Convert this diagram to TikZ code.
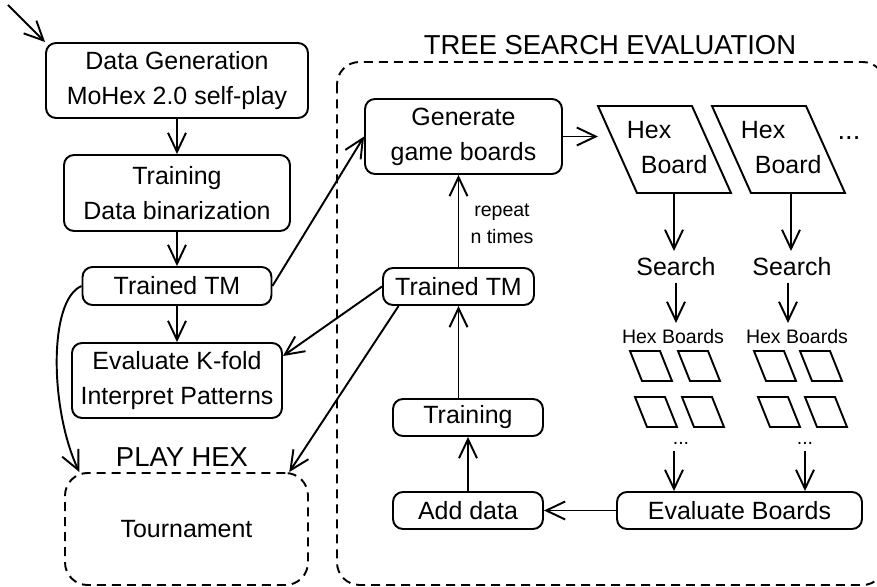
\documentclass[tikz,border=0pt]{standalone}
\usepackage{fontspec}
\setmainfont{Liberation Sans}
\usetikzlibrary{arrows.meta}
\begin{document}
\begin{tikzpicture}[x=0.02cm,y=-0.02cm,color=black,line width=1.1pt,
	every node/.style={font=\fontsize{14.2}{19.9}\selectfont},
	box/.style={draw,rounded corners=0.2cm,align=center,inner sep=0pt},
	dashbox/.style={draw,rounded corners=0.45cm,dash pattern=on 0.18cm off 0.12cm},
	arr/.style={-{Straight Barb[length=0.38cm,width=0.36cm]}},
	small/.style={font=\fontsize{11.1}{15.4}\selectfont},
	big/.style={font=\fontsize{15.6}{19}\selectfont}]
\useasboundingbox (0,0) rectangle (877,587);
\clip (0,0) rectangle (877,587);
% left column
\coordinate (start) at (8,5);
\node[box,minimum width=5.24cm,minimum height=1.5cm] (datagen) at (177,80.5) {Data Generation\\MoHex 2.0 self-play};
\node[box,minimum width=4.52cm,minimum height=1.52cm] (train) at (177,193) {Training\\Data binarization};
\node[box,minimum width=3.78cm,minimum height=0.76cm] (tm) at (177,286) {Trained TM};
\node[box,minimum width=4.2cm,minimum height=1.5cm] (evalk) at (177,380.5) {Evaluate K-fold\\Interpret Patterns};
\node[dashbox,minimum width=4.86cm,minimum height=2.24cm] (tourn) at (186.5,529) {Tournament};
\node[big] (playhex) at (182,457) {PLAY HEX};
% tree search
\draw[dashbox] (337,62) rectangle (885,585);
\node[big] (treetitle) at (610,45) {TREE SEARCH EVALUATION};
\node[box,minimum width=3.94cm,minimum height=1.5cm] (gen) at (463.5,136.5) {Generate\\game boards};
\node[box,minimum width=3.02cm,minimum height=0.74cm] (tm2) at (458.5,286.5) {Trained TM};
\node[box,minimum width=3cm,minimum height=0.74cm] (train2) at (468,417.5) {Training};
\node[box,minimum width=3cm,minimum height=0.74cm] (adddata) at (468,510.5) {Add data};
\node[box,minimum width=4.9cm,minimum height=0.74cm] (evalb) at (739.5,510.5) {Evaluate Boards};
\node[small,align=center] (repeat) at (502,224) {repeat\\n times};
% hex boards
\foreach \bx/\nm in {598/A,712/B} {
	\draw (\bx,106) -- ++(94,0) -- ++(39,87) -- ++(-94,0) -- cycle;
	\node[align=left,inner sep=0pt,anchor=west] (hex\nm) at (\bx+28,147.5) {Hex\\\hspace*{0.28cm}Board};
}
\node[big] (moredots) at (849,138) {...};
\coordinate (hexAin) at (598,136.5);
\coordinate (hexAout) at (674,193);
\coordinate (hexBout) at (791,193);
\node (searchA) at (676,267) {Search};
\node (searchB) at (792,267) {Search};
\node[small] (hbA) at (673,337) {Hex Boards};
\node[small] (hbB) at (797,337) {Hex Boards};
\foreach \sx in {630,678,754,800} {
	\draw (\sx,351) -- ++(30,0) -- ++(12,30) -- ++(-30,0) -- cycle;
}
\foreach \sx in {635,682,758,805} {
	\draw (\sx,397) -- ++(30,0) -- ++(12,30) -- ++(-30,0) -- cycle;
}
\node[small] (dotsA) at (681,443) {...};
\node[small] (dotsB) at (805,443) {...};
% connectors
\draw[arr] (start) -- (datagen.north west);
\draw[arr] (datagen) -- (train);
\draw[arr] (train) -- (tm);
\draw[arr] (tm) -- (evalk);
\draw[arr] (tm.west) .. controls (48,300) and (50,410) .. (tourn.152);
\draw[arr] (tm.east) -- (gen.west);
\draw[arr] (gen) -- (hexAin);
\draw[arr] (tm2.north) -- (tm2.north |- gen.south);
\draw[arr] (tm2.west) -- (evalk.13);
\draw[arr] (tm2.198) -- (tourn.29);
\draw[arr] (train2.north -| tm2.south) -- (tm2.south);
\draw[arr] (adddata) -- (train2);
\draw[arr] (evalb) -- (adddata);
\draw[arr] (hexAout) -- (hexAout |- searchA.north);
\draw[arr] (hexBout) -- (hexBout |- searchB.north);
\draw[arr] (searchA.south) -- (searchA.south |- hbA.north);
\draw[arr] ([xshift=-0.08cm]searchB.south) -- ([xshift=-0.08cm]searchB.south |- hbB.north);
\draw[arr] (dotsA.south -| hexAout) -- (hexAout |- evalb.north);
\draw[arr] (dotsB.south) -- (dotsB.south |- evalb.north);
\end{tikzpicture}
\end{document}
